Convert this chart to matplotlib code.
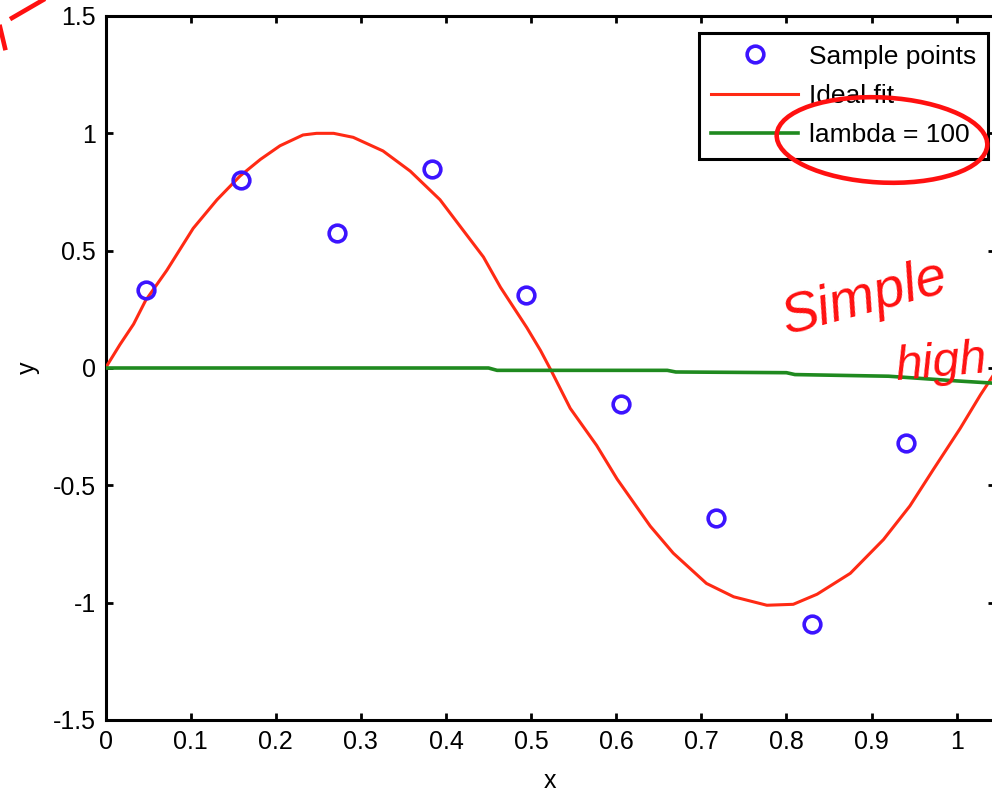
import numpy as np
import matplotlib
matplotlib.use('Agg')
import matplotlib.pyplot as plt
from matplotlib.patches import Ellipse
from matplotlib.lines import Line2D

# sample points
sample_x = [0.048, 0.159, 0.272, 0.383, 0.494, 0.606, 0.717, 0.830, 0.941]
sample_y = [0.334, 0.803, 0.574, 0.846, 0.309, -0.153, -0.638, -1.09, -0.32]

# ideal fit curve
ideal_x = [0.0, 0.017, 0.033, 0.047, 0.072, 0.103, 0.131, 0.158, 0.182, 0.205,
           0.232, 0.248, 0.268, 0.291, 0.326, 0.358, 0.393, 0.417, 0.444, 0.464,
           0.495, 0.511, 0.524, 0.546, 0.577, 0.601, 0.640, 0.667, 0.706, 0.738,
           0.777, 0.808, 0.836, 0.875, 0.914, 0.945, 0.973, 1.004, 1.028, 1.045]
ideal_y = [0.0, 0.10, 0.187, 0.287, 0.416, 0.595, 0.717, 0.818, 0.889, 0.947,
           0.993, 1.0, 1.0, 0.983, 0.925, 0.839, 0.717, 0.602, 0.473, 0.344,
           0.172, 0.075, -0.014, -0.172, -0.33, -0.473, -0.674, -0.789, -0.918, -0.975,
           -1.011, -1.007, -0.964, -0.875, -0.731, -0.588, -0.43, -0.258, -0.114, -0.02]

# lambda = 100 fit
lam_x = [0.0, 0.45, 0.46, 0.66, 0.67, 0.80, 0.81, 0.92, 0.96, 1.0, 1.045]
lam_y = [0.0, 0.0, -0.01, -0.01, -0.017, -0.02, -0.028, -0.035, -0.045, -0.055, -0.065]

xticks = [0, 0.1, 0.2, 0.3, 0.4, 0.5, 0.6, 0.7, 0.8, 0.9, 1]
xtick_labels = ['0', '0.1', '0.2', '0.3', '0.4', '0.5', '0.6', '0.7', '0.8', '0.9', '1']
yticks = [-1.5, -1, -0.5, 0, 0.5, 1, 1.5]
ytick_labels = ['-1.5', '-1', '-0.5', '0', '0.5', '1', '1.5']

plt.rcParams['font.family'] = ['Liberation Sans', 'DejaVu Sans']

W, H = 992, 793
fig = plt.figure(figsize=(W / 100, H / 100), dpi=100)
ax = fig.add_axes([105.5 / W, 1 - 720 / H, (995 - 105.5) / W, (720 - 16) / H])

ax.plot(sample_x, sample_y, 'o', ms=12, mfc='none', mec='#3c14ff', mew=2.6,
        label='Sample points', zorder=5)
ax.plot(ideal_x, ideal_y, color='#ff2a14', lw=2.2, label='Ideal fit', zorder=3)
ax.plot(lam_x, lam_y, color='#1f8a1f', lw=2.6, label='lambda = 100', zorder=4)

ax.set_xlim(0, 1.045)
ax.set_ylim(-1.5, 1.5)
ax.set_xticks(xticks)
ax.set_xticklabels(xtick_labels)
ax.set_yticks(yticks)
ax.set_yticklabels(ytick_labels)
ax.tick_params(direction='in', length=5, width=2, labelsize=18,
               top=True, right=True, pad=7)
for s in ax.spines.values():
    s.set_linewidth(2.2)

ax.set_xlabel('x', fontsize=18)
ax.set_ylabel('y', fontsize=18)
ax.xaxis.set_label_coords(0.5, -0.069)
ax.yaxis.set_label_coords(-0.074, 0.5)

leg = ax.legend(loc='upper right', bbox_to_anchor=(988 / W, 1 - 32.7 / H),
                bbox_transform=fig.transFigure, borderaxespad=0, fontsize=19,
                fancybox=False, framealpha=1, edgecolor='black',
                handlelength=3.3, handletextpad=0.4, borderpad=0.45,
                labelspacing=0.58, numpoints=1)
leg.get_frame().set_linewidth(2.2)

# handwritten notes on top of the chart
red = '#ff1010'
fig.add_artist(Ellipse((882 / W, 1 - 140 / H), 211 / W, 85 / H, angle=-4,
                       transform=fig.transFigure, fill=False, ec=red, lw=3.3))
fig.text(786 / W, 1 - 334 / H, 'Simple', color=red, fontsize=40, rotation=15,
         rotation_mode='anchor', ha='left', va='baseline', style='italic')
fig.text(896 / W, 1 - 380 / H, 'high', color=red, fontsize=35, rotation=5,
         rotation_mode='anchor', ha='left', va='baseline', style='italic')
fig.add_artist(Line2D([12 / W, 43 / W], [1 - 18 / H, 1.0], color=red, lw=3.3,
                      transform=fig.transFigure))
fig.add_artist(Line2D([0.0, 5 / W], [1 - 27 / H, 1 - 48 / H], color=red, lw=3.3,
                      transform=fig.transFigure))

fig.savefig('out.png', dpi=100)
